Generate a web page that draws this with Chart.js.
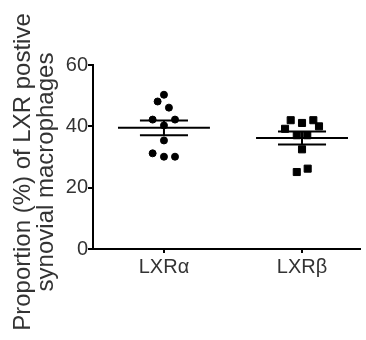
<!DOCTYPE html>
<html>
<head>
<meta charset="utf-8">
<script src="https://cdn.jsdelivr.net/npm/chart.js@4"></script>
<style>
  html, body { margin:0; padding:0; background:#fff; }
  #wrap { width:366px; height:340px; }
</style>
</head>
<body>
<div id="wrap"><canvas id="c" width="366" height="340"></canvas></div>
<script>
// groups on the x axis
const categories = ['LXR\u03b1', 'LXR\u03b2'];

// individual values (%), with their horizontal jitter
const alphaValues = [50.3, 48.1, 46.1, 42.2, 42.2, 40.3, 35.4, 31.2, 30.1, 30.1];
const alphaJitter = [0, -0.046, 0.036, -0.082, 0.08, 0, 0, -0.082, 0, 0.08];
const betaValues = [42.0, 41.1, 42.0, 39.2, 40.0, 37.1, 37.1, 32.5, 25.1, 26.2];
const betaJitter = [-0.082, 0, 0.082, -0.123, 0.123, -0.038, 0.038, 0, -0.038, 0.041];

// mean and SEM drawn as lines
const means = [39.5, 36.2];
const sems = [2.4, 2.1];

const yTicks = [0, 20, 40, 60];
const titleLines = ['Proportion (%) of LXR postive', 'synovial macrophages'];

const toPoints = (vals, jit, pos) => vals.map((v, i) => ({ x: pos + jit[i], y: v }));

// mean line + SEM error bars
const meanSem = {
  id: 'meanSem',
  afterDatasetsDraw(chart){
    const { ctx, scales:{x, y} } = chart;
    ctx.save();
    ctx.strokeStyle = '#000';
    ctx.lineWidth = 2;
    means.forEach((m, i) => {
      const c = i + 1;
      const hl = (a, b, v) => {
        ctx.beginPath();
        ctx.moveTo(x.getPixelForValue(c - a), y.getPixelForValue(v));
        ctx.lineTo(x.getPixelForValue(c + b), y.getPixelForValue(v));
        ctx.stroke();
      };
      hl(0.333, 0.333, m);
      hl(0.174, 0.174, m + sems[i]);
      hl(0.174, 0.174, m - sems[i]);
      ctx.beginPath();
      ctx.moveTo(x.getPixelForValue(c), y.getPixelForValue(m + sems[i]));
      ctx.lineTo(x.getPixelForValue(c), y.getPixelForValue(m - sems[i]));
      ctx.stroke();
    });
    ctx.restore();
  }
};

// two-line rotated y title
const yTitle = {
  id: 'yTitle',
  afterDraw(chart){
    const ctx = chart.ctx;
    ctx.save();
    ctx.fillStyle = '#333';
    ctx.font = '24px "Liberation Sans", Arial, sans-serif';
    ctx.textAlign = 'center';
    ctx.textBaseline = 'alphabetic';
    ctx.translate(0, 172);
    ctx.rotate(-Math.PI / 2);
    ctx.fillText(titleLines[0], 0, 30);
    ctx.fillText(titleLines[1], 0, 53);
    ctx.restore();
  }
};

new Chart(document.getElementById('c'), {
  type: 'scatter',
  data: {
    datasets: [
      { data: toPoints(alphaValues, alphaJitter, 1), pointStyle:'circle', pointRadius:3.5, borderWidth:1,
        backgroundColor:'#000', borderColor:'#000' },
      { data: toPoints(betaValues, betaJitter, 2), pointStyle:'rect', pointRadius:5, borderWidth:1,
        backgroundColor:'#000', borderColor:'#000' }
    ]
  },
  options: {
    responsive:false,
    animation:false,
    layout:{ padding:{ top:65, right:6, bottom:0, left:0 } },
    plugins:{ legend:{display:false}, tooltip:{enabled:false} },
    scales:{
      x:{
        type:'linear', min:0.486, max:2.42,
        afterBuildTicks(s){ s.ticks = [{value:1},{value:2}]; },
        afterFit(s){ s.height = 91; },
        ticks:{ callback:v => categories[v - 1], color:'#333', padding:2,
          font:{ family:'"Liberation Sans", Arial, sans-serif', size:20 } },
        grid:{ drawOnChartArea:false, tickLength:4, color:'#000', lineWidth:2 },
        border:{ color:'#000', width:2 }
      },
      y:{
        min:0, max:60,
        afterBuildTicks(s){ s.ticks = yTicks.map(v => ({value:v})); },
        afterFit(s){ s.width = 93; },
        ticks:{ color:'#333', padding:0,
          font:{ family:'"Liberation Sans", Arial, sans-serif', size:20 } },
        grid:{ drawOnChartArea:false, tickLength:5, color:'#000', lineWidth:2 },
        border:{ color:'#000', width:2 }
      }
    }
  },
  plugins:[meanSem, yTitle]
});
</script>
</body>
</html>
